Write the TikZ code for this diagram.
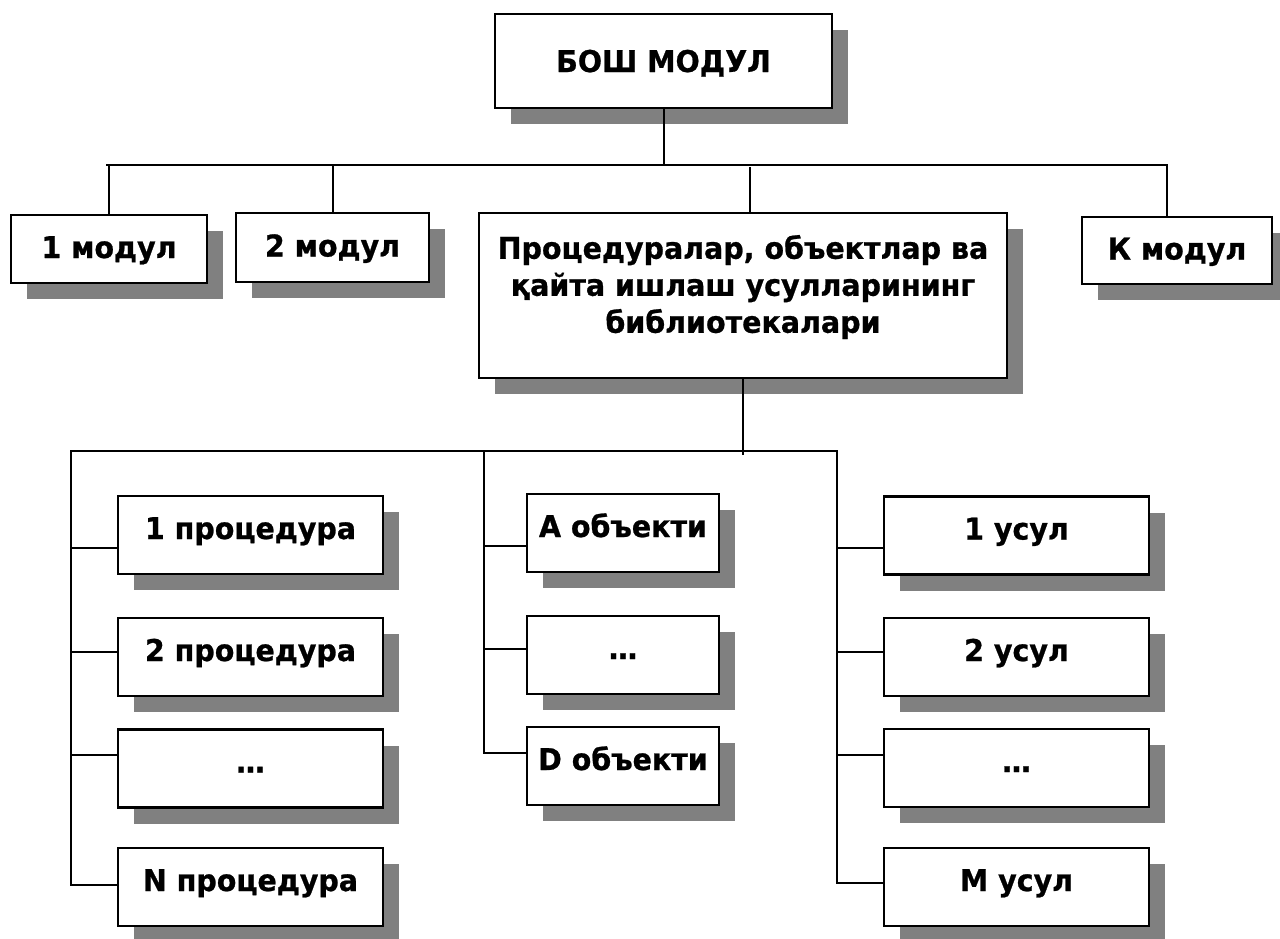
\documentclass[tikz,border=0pt]{standalone}
\usepackage{fontspec}
\newfontfamily\boxfont[FakeStretch=0.95, BoldFeatures={FakeBold=0.8}]{DejaVu Sans}
\usetikzlibrary{shadows}
\definecolor{shgray}{HTML}{808080}
\tikzset{
  x=1pt, y=-1pt,
  bx/.style={draw, line width=2.2pt, fill=white, inner sep=0pt,
    drop shadow={shadow xshift=16pt, shadow yshift=-16pt, fill=shgray, opacity=1},
    font=\boxfont\bfseries\fontsize{30}{37}\selectfont,
    text height=22pt, text depth=14pt},
  modbox/.style={bx, text depth=4pt},
  conn/.style={line width=2pt, line cap=rect},
  libtext/.style={font=\boxfont\bfseries\fontsize{30}{37}\selectfont, align=center, inner sep=0pt},
}
\begin{document}
\begin{tikzpicture}
\useasboundingbox (0,0) rectangle (1280,938);
% top level
\node[bx, text depth=0pt, minimum width=337pt, minimum height=94pt] (top) at (663.5,61) {БОШ МОДУЛ};
\node[modbox, minimum width=196pt, minimum height=68pt] (m1) at (109,249) {1 модул};
\node[modbox, minimum width=193pt, minimum height=69pt] (m2) at (332.5,247.5) {2 модул};
\node[modbox, minimum width=190pt, minimum height=67pt] (mK) at (1177,250.5) {К модул};
\node[bx, minimum width=528pt, minimum height=165pt] (lib) at (743,295.5) {};
\node[libtext] (libtxt) at ([yshift=8.5pt]lib.center) {Процедуралар, объектлар ва\\қайта ишлаш усулларининг\\библиотекалари};
% procedures
\node[bx, minimum width=265pt, minimum height=78pt] (p1) at (250.5,535) {1 процедура};
\node[bx, minimum width=265pt, minimum height=78pt] (p2) at (250.5,657) {2 процедура};
\node[bx, minimum width=265pt, minimum height=78pt] (p3) at (250.5,768.5) {…};
\node[bx, minimum width=265pt, minimum height=78pt] (pN) at (250.5,887) {N процедура};
% objects
\node[bx, minimum width=192pt, minimum height=78pt] (oA) at (623,533) {A объекти};
\node[bx, minimum width=192pt, minimum height=78pt] (oB) at (623,655) {…};
\node[bx, minimum width=192pt, minimum height=78pt] (oD) at (623,766) {D объекти};
% methods
\node[bx, minimum width=265pt, minimum height=78pt] (u1) at (1016.5,535.5) {1 усул};
\node[bx, minimum width=265pt, minimum height=78pt] (u2) at (1016.5,657) {2 усул};
\node[bx, minimum width=265pt, minimum height=78pt] (u3) at (1016.5,768) {…};
\node[bx, minimum width=265pt, minimum height=78pt] (uM) at (1016.5,887) {M усул};
% bus coordinates
\coordinate (T0) at (107,165);
\coordinate (T1) at (1167,165);
\coordinate (LT) at (750,168);
\coordinate (L0) at (71,451);
\coordinate (M0) at (484,451);
\coordinate (R0) at (837,451);
% top connectors
\draw[conn] (T0) -- (T1);
\draw[conn] (top.south) -- (top.south |- T0);
\draw[conn] (m1.north) -- (m1.north |- T0);
\draw[conn] (m2.north) -- (m2.north |- T0);
\draw[conn] (T1) -- (T1 |- mK.north);
\draw[conn] (LT) -- (LT |- lib.north);
% lower bus
\draw[conn] (L0) -- (R0);
\draw[conn] (lib.south) -- ([yshift=-3pt]lib.south |- L0);
\draw[conn] (L0) |- ([yshift=-13pt]p1.west);
\draw[conn] (L0) |- ([yshift=5pt]p2.west);
\draw[conn] (L0) |- ([yshift=13.5pt]p3.west);
\draw[conn] (L0) |- ([yshift=2pt]pN.west);
\draw[conn] (M0) |- ([yshift=-13pt]oA.west);
\draw[conn] (M0) |- ([yshift=6pt]oB.west);
\draw[conn] (M0) |- ([yshift=13pt]oD.west);
\draw[conn] (R0) |- ([yshift=-12.5pt]u1.west);
\draw[conn] (R0) |- ([yshift=5pt]u2.west);
\draw[conn] (R0) |- ([yshift=13pt]u3.west);
\draw[conn] (R0) |- ([yshift=4pt]uM.west);
\end{tikzpicture}
\end{document}
